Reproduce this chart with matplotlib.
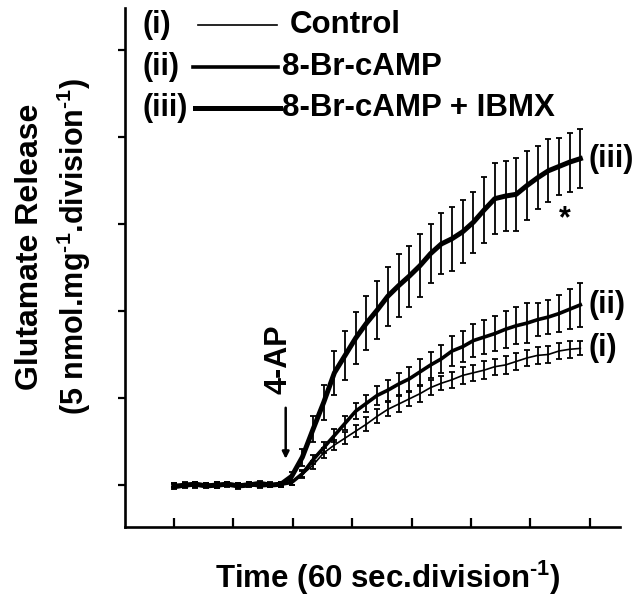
import numpy as np
import matplotlib
matplotlib.use("Agg")
import matplotlib.pyplot as plt
from matplotlib.lines import Line2D

plt.rcParams["font.family"] = ["Liberation Sans", "DejaVu Sans"]
plt.rcParams["mathtext.fontset"] = "custom"
plt.rcParams["mathtext.rm"] = "Liberation Sans:bold"
plt.rcParams["mathtext.it"] = "Liberation Sans:bold"
plt.rcParams["mathtext.bf"] = "Liberation Sans:bold"

# -------------------------------------------------------
# Data (time in divisions, release in divisions)
# -------------------------------------------------------
time = [0.00, 0.18, 0.36, 0.54, 0.72, 0.90, 1.08, 1.26, 1.44, 1.62,
        1.80, 1.98, 2.16, 2.34, 2.52, 2.70, 2.88, 3.06, 3.24, 3.42,
        3.60, 3.78, 3.96, 4.14, 4.32, 4.50, 4.68, 4.86, 5.04, 5.22,
        5.40, 5.58, 5.76, 5.94, 6.12, 6.30, 6.48, 6.66, 6.84]

control = [0.00, 0.01, -0.01, 0.00, 0.01, 0.00, -0.01, 0.01, 0.00, 0.01,
           0.00, 0.03, 0.12, 0.23, 0.37, 0.46, 0.54, 0.62, 0.70, 0.79,
           0.87, 0.93, 0.99, 1.05, 1.12, 1.17, 1.21, 1.26, 1.29, 1.32,
           1.36, 1.38, 1.42, 1.46, 1.49, 1.50, 1.54, 1.56, 1.57]
control_err = [0.02, 0.02, 0.02, 0.02, 0.02, 0.02, 0.02, 0.02, 0.02, 0.02,
               0.02, 0.03, 0.04, 0.05, 0.06, 0.06, 0.07, 0.07, 0.08, 0.08,
               0.08, 0.09, 0.08, 0.09, 0.09, 0.08, 0.09, 0.10, 0.09, 0.10,
               0.09, 0.10, 0.10, 0.09, 0.10, 0.10, 0.09, 0.10, 0.08]

brcamp = [0.00, -0.01, 0.01, 0.00, -0.01, 0.01, 0.00, 0.01, -0.01, 0.00,
          0.01, 0.03, 0.13, 0.29, 0.43, 0.57, 0.71, 0.85, 0.94, 1.03,
          1.09, 1.16, 1.22, 1.30, 1.38, 1.45, 1.54, 1.59, 1.66, 1.70,
          1.74, 1.79, 1.83, 1.86, 1.90, 1.93, 1.97, 2.02, 2.07]
brcamp_err = [0.02, 0.02, 0.02, 0.02, 0.02, 0.02, 0.02, 0.02, 0.02, 0.02,
              0.02, 0.03, 0.04, 0.05, 0.06, 0.07, 0.08, 0.09, 0.10, 0.11,
              0.12, 0.13, 0.14, 0.15, 0.15, 0.16, 0.17, 0.18, 0.19, 0.20,
              0.20, 0.21, 0.21, 0.23, 0.19, 0.20, 0.21, 0.23, 0.25]

brcamp_ibmx = [-0.02, 0.00, 0.01, -0.01, 0.00, 0.01, -0.01, 0.00, 0.02, 0.00,
               0.01, 0.10, 0.32, 0.64, 0.95, 1.29, 1.49, 1.69, 1.86, 2.01,
               2.17, 2.29, 2.40, 2.52, 2.66, 2.77, 2.83, 2.91, 3.02, 3.16,
               3.29, 3.32, 3.34, 3.44, 3.53, 3.61, 3.66, 3.71, 3.75]
brcamp_ibmx_err = [0.03, 0.02, 0.03, 0.02, 0.03, 0.02, 0.03, 0.02, 0.03, 0.02,
                   0.03, 0.05, 0.10, 0.15, 0.20, 0.25, 0.28, 0.30, 0.31, 0.33,
                   0.34, 0.36, 0.35, 0.36, 0.34, 0.35, 0.37, 0.36, 0.35, 0.38,
                   0.41, 0.40, 0.42, 0.40, 0.36, 0.36, 0.33, 0.34, 0.34]

series = [
    ("(i)", "Control", control, control_err, 1.2),
    ("(ii)", "8-Br-cAMP", brcamp, brcamp_err, 2.6),
    ("(iii)", "8-Br-cAMP + IBMX", brcamp_ibmx, brcamp_ibmx_err, 3.6),
]

x_ticks = [0, 1, 2, 3, 4, 5, 6, 7]
y_ticks = [0, 1, 2, 3, 4, 5]

# -------------------------------------------------------
# Plot
# -------------------------------------------------------
fig = plt.figure(figsize=(6.4, 5.99), dpi=100)
ax = fig.add_axes([0.1953, 0.120, 0.7737, 0.8666])

for tag, name, vals, err, lw in series:
    ax.errorbar(time, vals, yerr=err, color="black", lw=lw,
                elinewidth=1.3, capsize=2.5, capthick=1.3)
    ax.text(time[-1] + 0.14, vals[-1], tag, fontsize=22, fontweight="bold",
            va="center", ha="left", clip_on=False)

ax.text(6.58, 3.05, "*", fontsize=22, fontweight="bold",
        ha="center", va="center")

# 4-AP arrow
ax.annotate("", xy=(1.88, 0.27), xytext=(1.88, 0.92),
            arrowprops=dict(arrowstyle="-|>", color="black", lw=1.8,
                            mutation_scale=10))
ax.text(1.76, 1.44, "4-AP", rotation=90, fontsize=22, fontweight="bold",
        ha="center", va="center")

ax.set_xlim(-0.825, 7.51)
ax.set_ylim(-0.483, 5.48)
ax.set_xticks(x_ticks)
ax.set_yticks(y_ticks)
ax.set_xticklabels([])
ax.set_yticklabels([])
ax.tick_params(axis="x", direction="in", length=6.5, width=1.6)
ax.tick_params(axis="y", direction="out", length=5, width=1.6)

for side in ["top", "right"]:
    ax.spines[side].set_visible(False)
for side in ["left", "bottom"]:
    ax.spines[side].set_linewidth(1.9)

# legend drawn by hand
legend_rows = [25, 67, 108]
legend_x0 = [198, 193, 195]
legend_x1 = [277, 278, 280]
legend_tx = [290, 282, 282]
for (tag, name, _, _, lw), row, x0, x1, tx in zip(series, legend_rows,
                                                   legend_x0, legend_x1,
                                                   legend_tx):
    yf = 1 - row / 599
    fig.text(142 / 640, yf, tag, fontsize=22, fontweight="bold",
             ha="left", va="center")
    fig.add_artist(Line2D([x0 / 640, x1 / 640], [yf, yf],
                          color="black", lw=lw))
    fig.text(tx / 640, yf, name, fontsize=22.5, fontweight="bold",
             ha="left", va="center")

fig.text(388 / 640, 1 - 578 / 599, r"Time (60 sec.division$^{\text{-1}}$)",
         fontsize=22.5, fontweight="bold", ha="center", va="center")
fig.text(30 / 640, 1 - 247 / 599, "Glutamate Release", rotation=90,
         fontsize=23, fontweight="bold", ha="center", va="center")
fig.text(74 / 640, 1 - 246 / 599,
         r"(5 nmol.mg$^{\text{-1}}$.division$^{\text{-1}}$)", rotation=90,
         fontsize=22, fontweight="bold", ha="center", va="center")

fig.savefig("out.png", dpi=100)
